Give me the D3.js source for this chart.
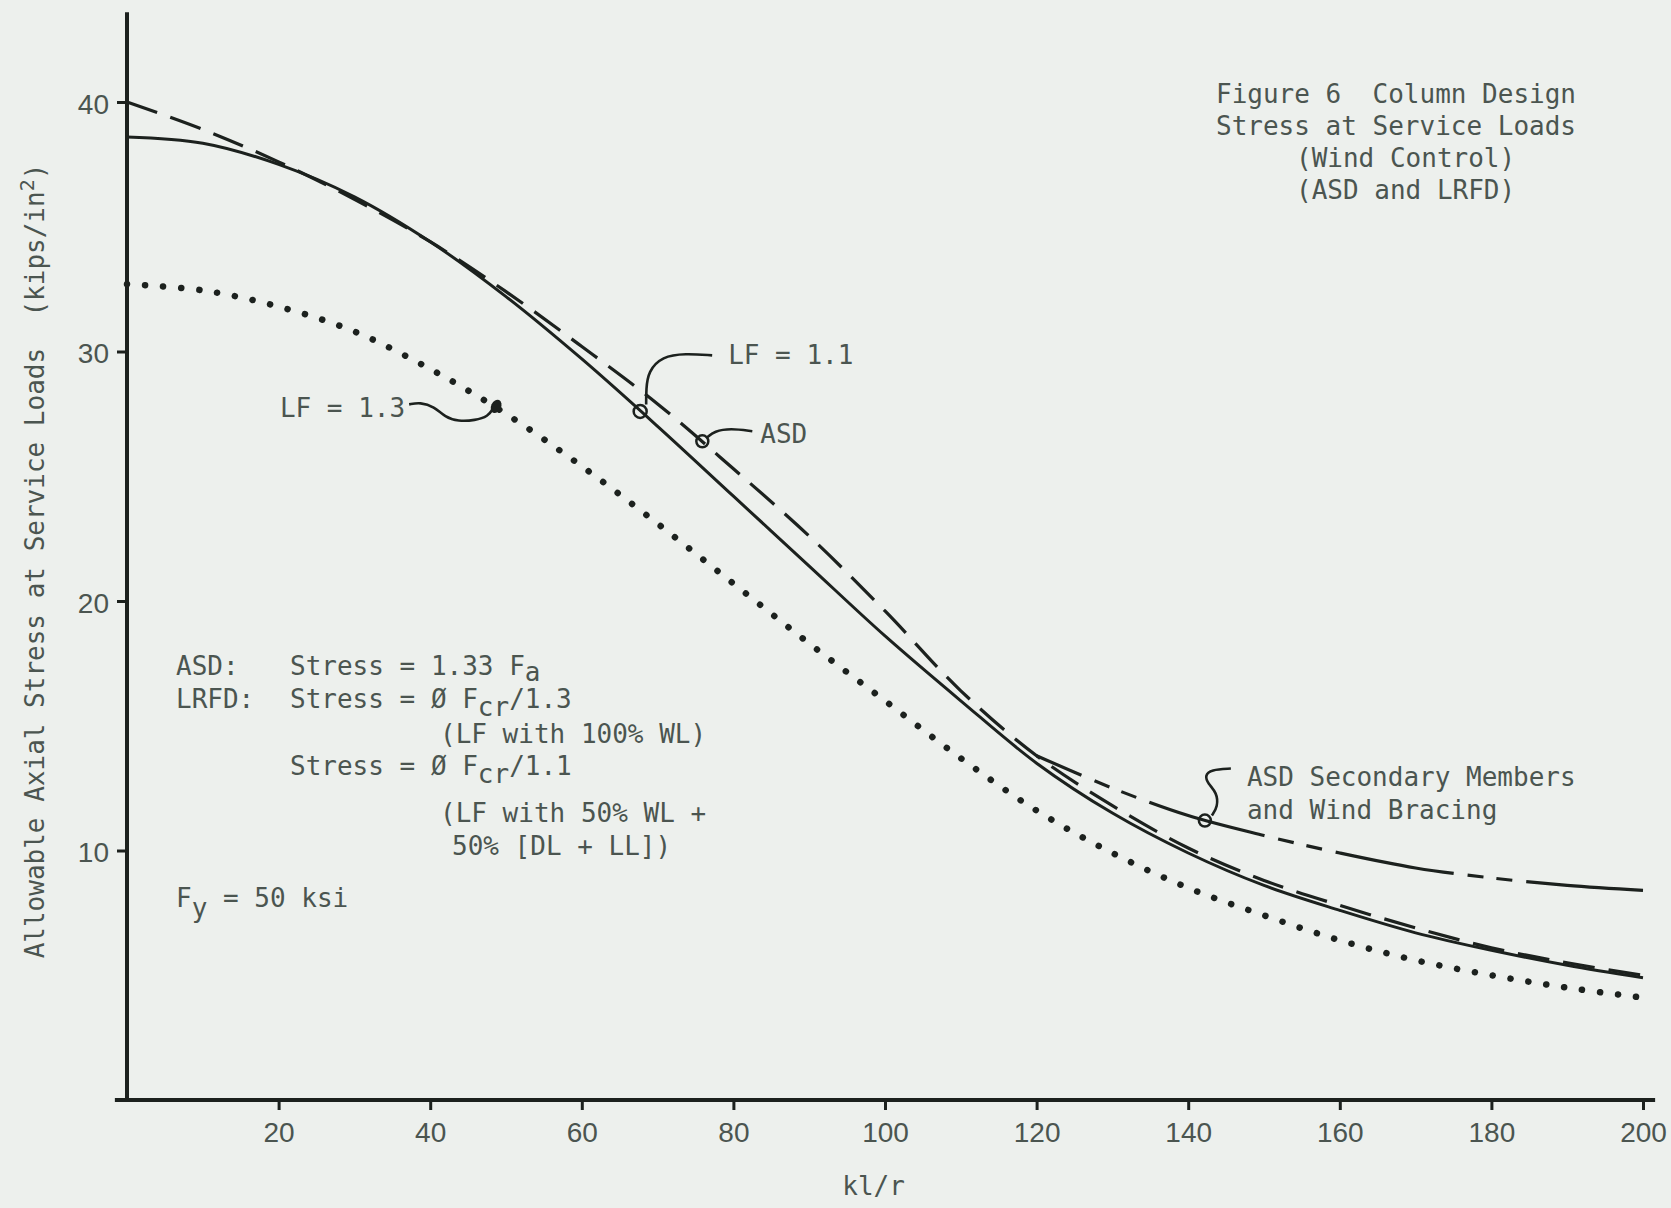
<!DOCTYPE html>
<html>
<head>
<meta charset="utf-8">
<script src="https://cdn.jsdelivr.net/npm/d3@7"></script>
<style>
  body { margin: 0; background: #edf0ed; }
  .mono { font-family: "DejaVu Sans Mono", "Liberation Mono", monospace; font-size: 26px; fill: #4b5550; white-space: pre; }
  .tick text { font-family: "Liberation Sans", Arial, sans-serif; font-size: 28px; fill: #4b5550; }
</style>
</head>
<body>
<div id="wrapper"></div>
<script>
// values (kl/r vs allowable stress, ksi)
const klr = [0, 10, 20, 30, 40, 50, 60, 70, 80, 90, 100, 110, 120, 130, 140, 150, 160, 170, 180, 190, 200];
const asdStress = [40.0, 38.9, 37.6, 36.1, 34.4, 32.4, 30.2, 27.9, 25.3, 22.6, 19.6, 16.4, 13.8, 11.8, 10.1, 8.8, 7.8, 6.9, 6.1, 5.5, 5.0];
const lrfd11Stress = [38.6, 38.35, 37.5, 36.2, 34.4, 32.2, 29.7, 27.0, 24.2, 21.4, 18.6, 16.0, 13.5, 11.5, 9.9, 8.6, 7.6, 6.7, 6.0, 5.4, 4.9];
const lrfd13Stress = [32.7, 32.45, 31.8, 30.8, 29.3, 27.5, 25.4, 23.1, 20.7, 18.3, 16.0, 13.7, 11.6, 9.9, 8.5, 7.4, 6.4, 5.6, 5.0, 4.5, 4.1];
const secKlr = [120, 130, 140, 150, 160, 170, 180, 190, 200];
const secStress = [13.8, 12.5, 11.4, 10.6, 9.9, 9.3, 8.9, 8.6, 8.4];

const xTicks = [20, 40, 60, 80, 100, 120, 140, 160, 180, 200];
const yTicks = [10, 20, 30, 40];

// marker points on the curves used by the labels
const lf11Mark = [67.7, 27.6];
const asdMark = [75.9, 26.4];
const lf13Mark = [48.7, 27.8];
const secMark = [142.2, 11.2];

const width = 1671;
const height = 1208;
const ink = "#1c211e";

const svg = d3.select("#wrapper").append("svg")
	.attr("width", width)
	.attr("height", height);

svg.append("rect").attr("width", width).attr("height", height).attr("fill", "#edf0ed");

const x = d3.scaleLinear().domain([0, 200]).range([127, 1643]);
const y = d3.scaleLinear().domain([0, 40]).range([1100, 102]);

// axes lines
svg.append("line")
	.attr("x1", x(0)).attr("x2", x(0))
	.attr("y1", y(0)).attr("y2", y(43.6))
	.attr("stroke", ink).attr("stroke-width", 4);
svg.append("line")
	.attr("x1", x(-1.6)).attr("x2", x(201.6))
	.attr("y1", y(0)).attr("y2", y(0))
	.attr("stroke", ink).attr("stroke-width", 4);

const xAxis = svg.append("g")
	.attr("transform", `translate(0,${y(0)})`)
	.call(d3.axisBottom(x).tickValues(xTicks).tickSize(10).tickSizeOuter(0).tickPadding(12));
xAxis.select(".domain").remove();

const yAxis = svg.append("g")
	.attr("transform", `translate(${x(0)},0)`)
	.call(d3.axisLeft(y).tickValues(yTicks).tickSize(10).tickSizeOuter(0).tickPadding(8));
yAxis.select(".domain").remove();

svg.selectAll(".tick line").attr("stroke", ink).attr("stroke-width", 3);
yAxis.selectAll(".tick text").attr("dy", "0.4em");

const line = d3.line()
	.x(d => x(d[0]))
	.y(d => y(d[1]))
	.curve(d3.curveCatmullRom.alpha(0.5));

const zip = (xs, ys) => xs.map((v, i) => [v, ys[i]]);

// LRFD, LF = 1.3 (dotted)
svg.append("path")
	.datum(zip(klr, lrfd13Stress))
	.attr("d", line)
	.attr("fill", "none")
	.attr("stroke", ink)
	.attr("stroke-width", 6.5)
	.attr("stroke-linecap", "round")
	.attr("stroke-dasharray", "0.1,18");

// ASD secondary members (long dash - short - short)
svg.append("path")
	.datum(zip(secKlr, secStress))
	.attr("d", line)
	.attr("fill", "none")
	.attr("stroke", ink)
	.attr("stroke-width", 3.2)
	.attr("stroke-dasharray", "16,13,16,14,120,14")
	.attr("stroke-dashoffset", 130);

// ASD (dashed)
svg.append("path")
	.datum(zip(klr, asdStress))
	.attr("d", line)
	.attr("fill", "none")
	.attr("stroke", ink)
	.attr("stroke-width", 3.2)
	.attr("stroke-dasharray", "32,14");

// LRFD, LF = 1.1 (solid)
svg.append("path")
	.datum(zip(klr, lrfd11Stress))
	.attr("d", line)
	.attr("fill", "none")
	.attr("stroke", ink)
	.attr("stroke-width", 3);

// leaders
const leader = d3.line().curve(d3.curveBasis);

function drawLeader(mark, pts) {
	const px = x(mark[0]);
	const py = y(mark[1]);
	svg.append("path")
		.attr("d", leader(pts.map(p => [px + p[0], py + p[1]])))
		.attr("fill", "none")
		.attr("stroke", ink)
		.attr("stroke-width", 2.6);
}

function label(txt, px, py) {
	return svg.append("text").attr("class", "mono").attr("x", px).attr("y", py).text(txt);
}

// LF = 1.1
svg.append("circle").attr("cx", x(lf11Mark[0])).attr("cy", y(lf11Mark[1])).attr("r", 6.5)
	.attr("fill", "none").attr("stroke", ink).attr("stroke-width", 2.5);
drawLeader(lf11Mark, [[6, -7], [6, -22], [8, -40], [22, -55], [45, -58], [72, -56]]);
label("LF = 1.1", x(lf11Mark[0]) + 88, y(lf11Mark[1]) - 47);

// ASD
svg.append("circle").attr("cx", x(asdMark[0])).attr("cy", y(asdMark[1])).attr("r", 6)
	.attr("fill", "none").attr("stroke", ink).attr("stroke-width", 2.5);
drawLeader(asdMark, [[5, -4], [12, -10], [28, -13], [50, -10]]);
label("ASD", x(asdMark[0]) + 58, y(asdMark[1]) + 2);

// LF = 1.3
svg.append("ellipse").attr("cx", x(lf13Mark[0])).attr("cy", y(lf13Mark[1])).attr("rx", 5).attr("ry", 7)
	.attr("transform", `rotate(25,${x(lf13Mark[0])},${y(lf13Mark[1])})`)
	.attr("fill", ink);
drawLeader(lf13Mark, [[-87, -2], [-76, -4], [-62, 0], [-51, 11], [-38, 15], [-21, 14], [-8, 10], [-3, 2]]);
label("LF = 1.3", x(lf13Mark[0]) - 91, y(lf13Mark[1]) + 11).attr("text-anchor", "end");

// ASD secondary members
svg.append("circle").attr("cx", x(secMark[0])).attr("cy", y(secMark[1])).attr("r", 6)
	.attr("fill", "none").attr("stroke", ink).attr("stroke-width", 2.5);
drawLeader(secMark, [[7, -5], [13, -14], [12, -28], [3, -37], [0, -45], [6, -51], [26, -52]]);
label("ASD Secondary Members", x(secMark[0]) + 42, y(secMark[1]) - 35);
label("and Wind Bracing", x(secMark[0]) + 42, y(secMark[1]) - 2);

// title block
label("Figure 6  Column Design", 1216, 103);
label("Stress at Service Loads", 1216, 135);
label("(Wind Control)", 1296, 167);
label("(ASD and LRFD)", 1296, 199);

// notes block
function sub(t, txt, shift) {
	t.append("tspan").attr("dy", shift).text(txt);
	return t;
}
label("ASD:", 176, 675);
let t = label("Stress = 1.33 F", 290, 675);
sub(t, "a", 6);
label("LRFD:", 176, 708);
t = label("Stress = Ø F", 290, 708);
sub(t, "cr", 8);
sub(t, "/1.3", -8);
label("(LF with 100% WL)", 440, 743);
t = label("Stress = Ø F", 290, 775);
sub(t, "cr", 8);
sub(t, "/1.1", -8);
label("(LF with 50% WL +", 440, 822);
label("50% [DL + LL])", 452, 855);
t = label("F", 176, 907);
sub(t, "y", 10);
sub(t, " = 50 ksi", -10);

// axis titles
label("kl/r", x(98.5), 1195).attr("text-anchor", "middle");
const yt = svg.append("text").attr("class", "mono")
	.attr("transform", "translate(44,561) rotate(-90)")
	.attr("text-anchor", "middle");
yt.append("tspan").text("Allowable Axial Stress at Service Loads  (kips/in");
yt.append("tspan").attr("dy", -10).attr("font-size", 20).text("2");
yt.append("tspan").attr("dy", 10).text(")");
</script>
</body>
</html>
